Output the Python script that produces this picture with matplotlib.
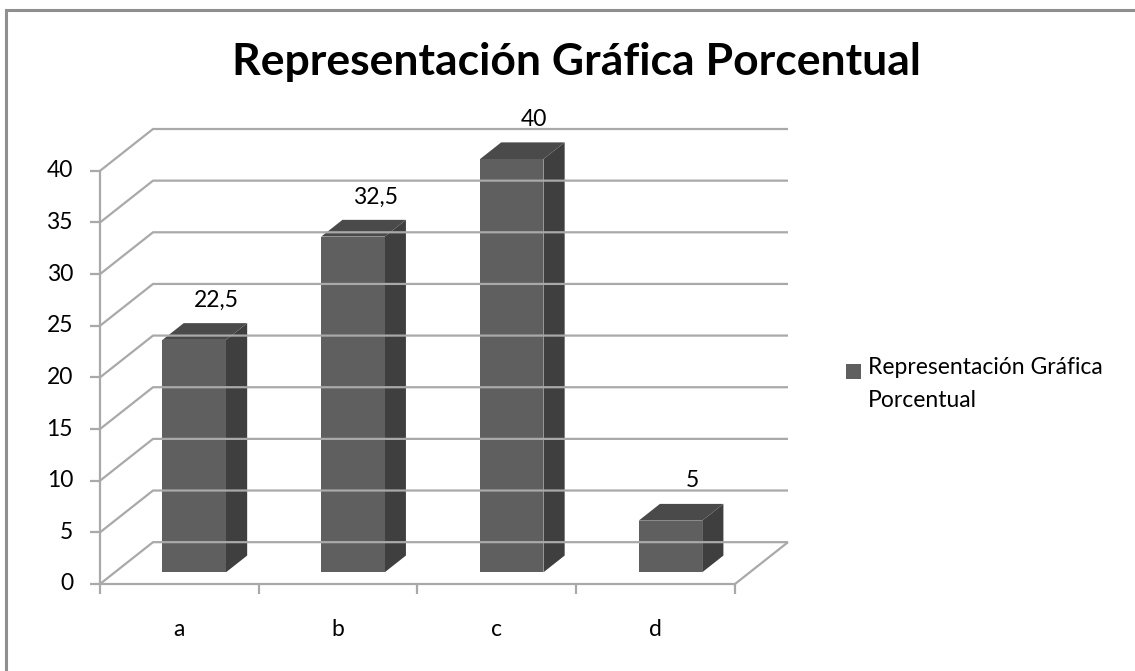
import matplotlib
matplotlib.use('Agg')
import matplotlib.pyplot as plt
from matplotlib.patches import Polygon, Rectangle

# data
categories = ['a', 'b', 'c', 'd']
values = [22.5, 32.5, 40, 5]
value_labels = ['22,5', '32,5', '40', '5']
yticks = [0, 5, 10, 15, 20, 25, 30, 35, 40]
title = 'Representación Gráfica Porcentual'
legend_lines = ['Representación Gráfica', 'Porcentual']

plt.rcParams['font.family'] = ['Lato', 'DejaVu Sans']

W, H = 1135, 671
fig = plt.figure(figsize=(W / 100, H / 100), dpi=100)

# fake 3d depth offset (data units)
DX, DY = 0.334, 4.05
z0, z1 = 0.28, 0.68
half = 0.2
grid_c = '#a9a9a9'
front_c, top_c, side_c = '#5f5f5f', '#4a4a4a', '#3f3f3f'
fs = 16.5

# outer chart border (only top and left edges fall inside the image)
fig.patches.append(Rectangle((6 / W, -1.0), 3.0, 1.0 + (H - 10) / H, transform=fig.transFigure,
                             fill=False, edgecolor='#8f8f8f', linewidth=2.2))

ax = fig.add_axes([100 / W, (H - 584) / H, (788 - 100) / W, (584 - 129) / H])
ax.set_xlim(-0.5, 3.5 + DX)
ax.set_ylim(0, 40 + DY)
ax.axis('off')

x0, x1 = -0.5, len(categories) - 0.5
kw = dict(color=grid_c, linewidth=1.6, clip_on=False, solid_capstyle='butt')

# back wall gridlines + side diagonals
for t in yticks:
    ax.plot([x0, x0 + DX, x1 + DX], [t, t + DY, t + DY], **kw)
# floor
ax.plot([x0, x1, x1 + DX], [0, 0, DY], **kw)
# front vertical axis with ticks
ax.plot([x0, x0], [0, 40], **kw)
for t in yticks:
    ax.plot([x0], [t], linestyle='none', clip_on=False,
            marker=0, markersize=7, markeredgewidth=1.6, markeredgecolor=grid_c)
    ax.annotate(str(t), (x0, t), xytext=(-27, 0), textcoords='offset pixels',
                ha='right', va='center', fontsize=fs, annotation_clip=False)
# category ticks and labels
for k in range(len(categories) + 1):
    ax.plot([x0 + k], [0], linestyle='none', clip_on=False,
            marker=3, markersize=7, markeredgewidth=1.6, markeredgecolor=grid_c)
for i, c in enumerate(categories):
    ax.annotate(c, (i, 0), xytext=(0, -45), textcoords='offset pixels',
                ha='center', va='center', fontsize=fs, annotation_clip=False)

# bars
for i, v in enumerate(values):
    l, r = i - half, i + half
    front = [(l + z0 * DX, z0 * DY), (r + z0 * DX, z0 * DY),
             (r + z0 * DX, v + z0 * DY), (l + z0 * DX, v + z0 * DY)]
    top = [(l + z0 * DX, v + z0 * DY), (r + z0 * DX, v + z0 * DY),
           (r + z1 * DX, v + z1 * DY), (l + z1 * DX, v + z1 * DY)]
    side = [(r + z0 * DX, z0 * DY), (r + z1 * DX, z1 * DY),
            (r + z1 * DX, v + z1 * DY), (r + z0 * DX, v + z0 * DY)]
    ax.add_patch(Polygon(side, closed=True, facecolor=side_c, edgecolor='none', clip_on=False))
    ax.add_patch(Polygon(top, closed=True, facecolor=top_c, edgecolor='none', clip_on=False))
    ax.add_patch(Polygon(front, closed=True, facecolor=front_c, edgecolor='none', clip_on=False))
    ax.annotate(value_labels[i], (i + 0.7 * DX, v + z1 * DY), xytext=(0, 23),
                textcoords='offset pixels', ha='center', va='center', fontsize=fs,
                annotation_clip=False)

fig.text(576 / W, 1 - 62 / H, title, ha='center', va='center', fontsize=32, fontweight='bold')

# legend
fig.patches.append(Rectangle((846 / W, 1 - 379 / H), 15 / W, 15 / H, transform=fig.transFigure,
                             facecolor=front_c, edgecolor='none'))
fig.text(868 / W, 1 - 368 / H, legend_lines[0], ha='left', va='center', fontsize=fs)
fig.text(868 / W, 1 - 401 / H, legend_lines[1], ha='left', va='center', fontsize=fs)

fig.savefig('out.png', dpi=100)
